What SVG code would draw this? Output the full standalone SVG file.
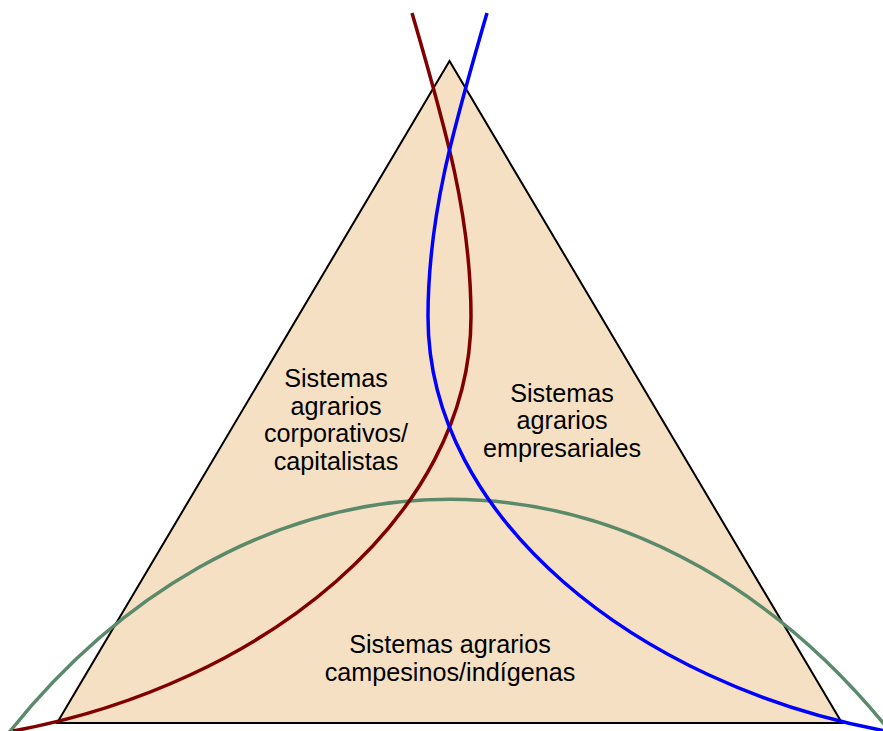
<svg xmlns="http://www.w3.org/2000/svg" width="883" height="731" viewBox="0 0 883 731">
<style>
.lbl{font-family:"Liberation Sans",Arial,sans-serif;font-size:25.2px;fill:#000;text-anchor:middle}
.curve{fill:none;stroke-width:3.5;stroke-linecap:butt}
</style>
<rect width="883" height="731" fill="#fff"/>
<g id="triangle">
<polygon points="449.5,61 57,723 842,723" fill="#F5E0C3" stroke="#000" stroke-width="2" stroke-linejoin="miter"/>
</g>
<g id="connectors">
<path id="green" class="curve" stroke="#5B8A6B" d="M 0 744 A 650 879 0 0 1 900 744"/>
<path id="red" class="curve" stroke="#800000" d="M 412 13 C 447 133 471 217 471 317 C 471 517 263 685 13 731"/>
<path id="blue" class="curve" stroke="#0000FF" d="M 487 13 C 452 133 428 217 428 317 C 428 517 636 685 886 731"/>
</g>
<g id="node-corporativos">
<text class="lbl" x="336" y="387">Sistemas</text>
<text class="lbl" x="336" y="414.7">agrarios</text>
<text class="lbl" x="336" y="442.4">corporativos/</text>
<text class="lbl" x="336" y="470">capitalistas</text>
</g>
<g id="node-empresariales">
<text class="lbl" x="562" y="401.5">Sistemas</text>
<text class="lbl" x="562" y="429">agrarios</text>
<text class="lbl" x="562" y="456.7">empresariales</text>
</g>
<g id="node-campesinos">
<text class="lbl" x="450" y="653.3">Sistemas agrarios</text>
<text class="lbl" x="450" y="681">campesinos/indígenas</text>
</g>
</svg>
